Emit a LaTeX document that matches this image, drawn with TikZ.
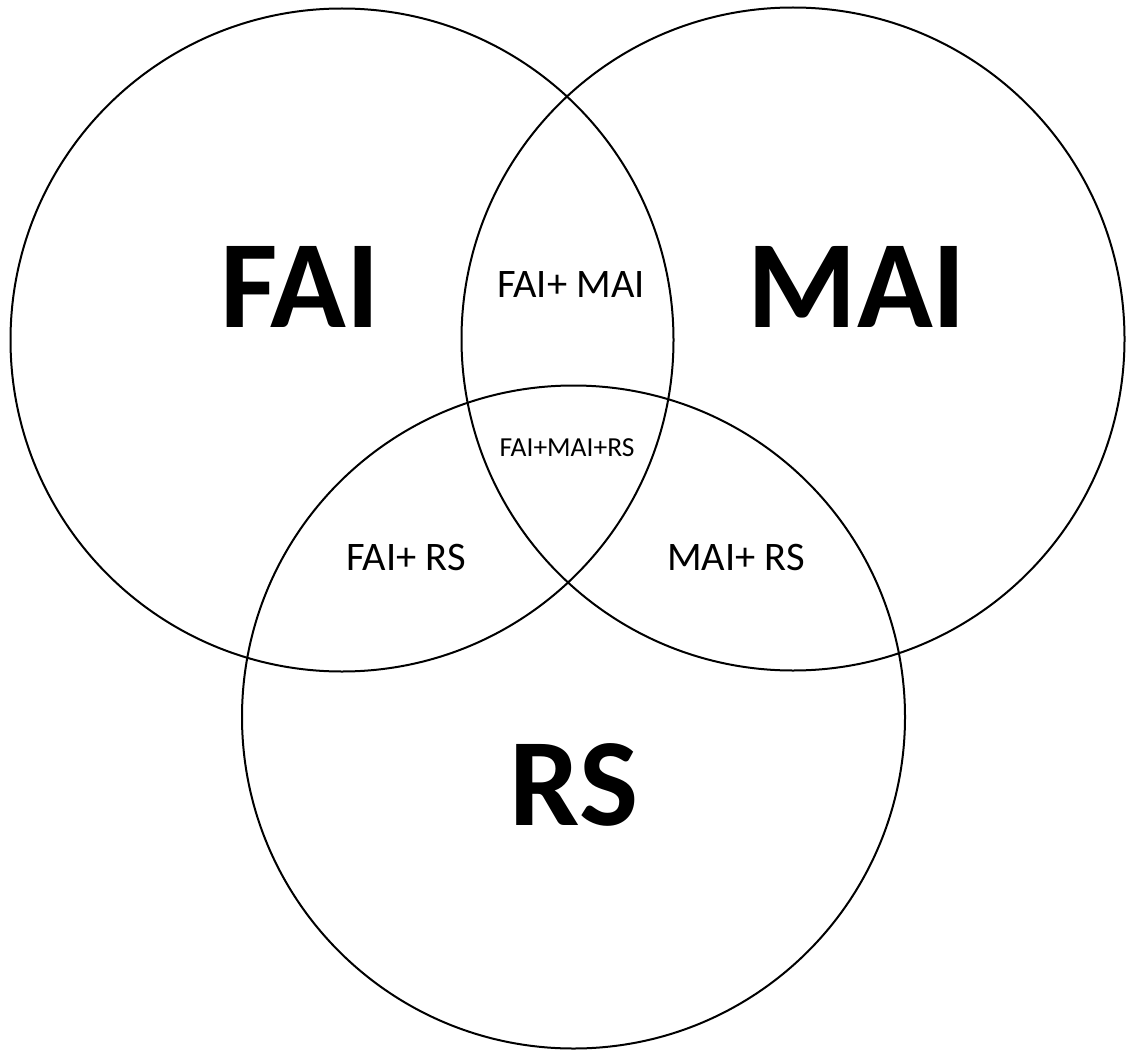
\documentclass[tikz,border=0pt]{standalone}
\usepackage{fontspec}
\setmainfont{Carlito}
\begin{document}
\begin{tikzpicture}[x=1pt,y=-1pt,
  ring/.style={circle,draw=black,line width=2pt,inner sep=0pt,minimum size=663pt},
  big/.style={anchor=base,inner sep=0pt,font=\fontsize{125}{135}\selectfont\bfseries},
  mid/.style={anchor=base,inner sep=0pt,font=\fontsize{40.5}{48}\selectfont},
  small/.style={anchor=base,inner sep=0pt,font=\fontsize{27.5}{33}\selectfont}]
\useasboundingbox[fill=white] (0,0) rectangle (1126,1051);
\node[ring] (cfai) at (342,340) {};
\node[ring] (cmai) at (793,339) {};
\node[ring] (crs) at (573.5,717) {};
\node[big] (lfai) at (300,327) {FAI};
\node[big] (lmai) at (857,327) {MAI};
\node[big] (lrs) at (574,825) {RS};
\node[mid] (lfm) at (571,297) {FAI+ MAI};
\node[small] (lfmr) at (567,456) {FAI+MAI+RS};
\node[mid] (lfr) at (406,570) {FAI+ RS};
\node[mid] (lmr) at (736,570) {MAI+ RS};
\end{tikzpicture}
\end{document}
